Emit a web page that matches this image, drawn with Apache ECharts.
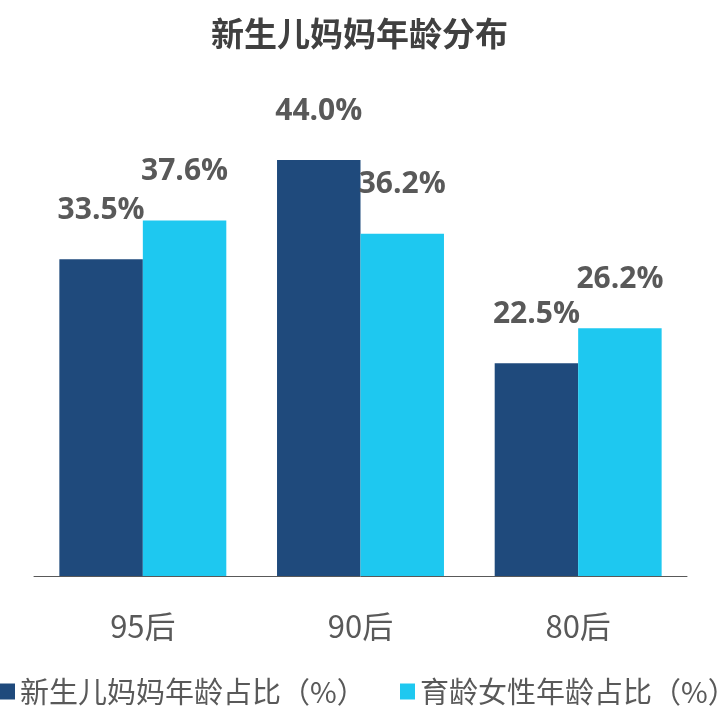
<!DOCTYPE html>
<html>
<head>
<meta charset="utf-8">
<script src="https://cdn.jsdelivr.net/npm/echarts@6/dist/echarts.min.js"></script>
<style>
html,body{margin:0;padding:0;background:#fff;}
#chart{width:725px;height:726px;}
</style>
</head>
<body>
<div id="chart"></div>
<script>
const titleText = '新生儿妈妈年龄分布';
const categories = ['95后', '90后', '80后'];
const seriesNames = ['新生儿妈妈年龄占比（%）', '育龄女性年龄占比（%）'];
const momValues = [33.5, 44.0, 22.5];
const womenValues = [37.6, 36.2, 26.2];
const colors = ['#1F4A7C', '#1EC8F0'];

const chart = echarts.init(document.getElementById('chart'));
const labelStyle = {
  show: true,
  position: 'top',
  distance: 34,
  color: '#595959',
  fontFamily: 'Open Sans',
  fontWeight: 'bold',
  fontSize: 30,
  formatter: p => p.value.toFixed(1) + '%'
};
const legendBase = {
  top: 677,
  padding: 0,
  itemWidth: 15,
  itemHeight: 16,
  itemGap: 45,
  icon: 'rect',
  textStyle: {
    fontFamily: 'Noto Sans CJK SC',
    fontSize: 29,
    color: '#595959'
  }
};
chart.setOption({
  animation: false,
  backgroundColor: '#fff',
  title: {
    text: titleText,
    left: 206,
    top: 12,
    textStyle: {
      fontFamily: 'Noto Sans CJK SC',
      fontWeight: 'bold',
      fontSize: 33,
      color: '#404040'
    }
  },
  legend: [
    Object.assign({}, legendBase, { left: 0, data: [seriesNames[0]] }),
    Object.assign({}, legendBase, { left: 400, data: [seriesNames[1]] })
  ],
  grid: {
    left: 34,
    right: 38,
    top: 103.3,
    bottom: 150
  },
  xAxis: {
    type: 'category',
    data: categories,
    axisTick: { show: false },
    axisLine: { lineStyle: { color: '#595959', width: 1 } },
    axisLabel: {
      margin: 35,
      fontFamily: 'Noto Sans CJK SC',
      fontSize: 31,
      color: '#595959'
    }
  },
  yAxis: {
    type: 'value',
    min: 0,
    max: 50,
    show: false,
    splitLine: { show: false }
  },
  series: [
    {
      name: seriesNames[0],
      type: 'bar',
      data: momValues,
      barGap: '0%',
      barCategoryGap: '23.3%',
      itemStyle: { color: colors[0] },
      label: labelStyle
    },
    {
      name: seriesNames[1],
      type: 'bar',
      data: womenValues,
      barGap: '0%',
      barCategoryGap: '23.3%',
      itemStyle: { color: colors[1] },
      label: labelStyle
    }
  ]
});
</script>
</body>
</html>
